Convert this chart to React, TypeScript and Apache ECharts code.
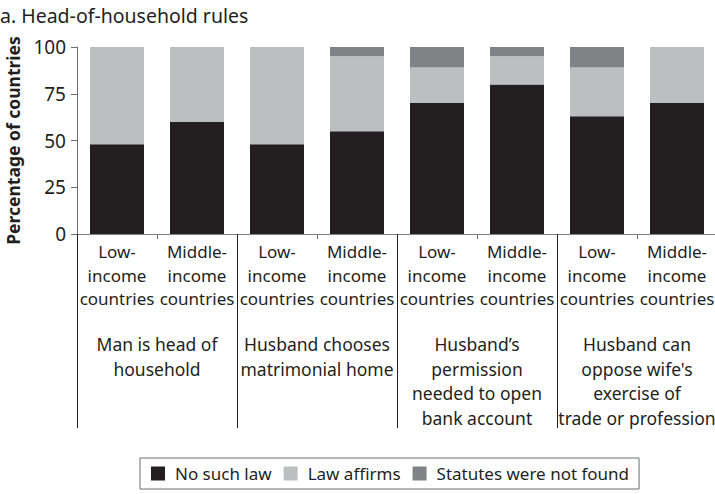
import React, { useEffect, useRef } from "react";
import * as echarts from "echarts";

const categories = [
  "Low-\nincome\ncountries",
  "Middle-\nincome\ncountries",
  "Low-\nincome\ncountries",
  "Middle-\nincome\ncountries",
  "Low-\nincome\ncountries",
  "Middle-\nincome\ncountries",
  "Low-\nincome\ncountries",
  "Middle-\nincome\ncountries",
];
const groups = [
  "Man is head of\nhousehold",
  "Husband chooses\nmatrimonial home",
  "Husband\u2019s\npermission\nneeded to open\nbank account",
  "Husband can\noppose wife's\nexercise of\ntrade or profession",
];
const noSuchLaw = [48, 60, 48, 55, 70, 80, 63, 70];
const lawAffirms = [52, 40, 52, 40, 19, 15, 26, 30];
const notFound = [0, 0, 0, 5, 11, 5, 11, 0];
const yTicks = [0, 25, 50, 75, 100];

const FONT = "Noto Sans";
const INK = "#231f20";

export default function App() {
  const ref = useRef<HTMLDivElement>(null);
  useEffect(() => {
    if (!ref.current) return;
    const chart = echarts.init(ref.current, null, { renderer: "svg" });
    chart.setOption({
      animation: false,
      textStyle: { fontFamily: FONT, color: INK },
      title: {
        text: "a. Head-of-household rules",
        left: 0,
        top: 5,
        padding: 0,
        textStyle: { fontFamily: FONT, fontSize: 19.5, fontWeight: "normal", color: INK },
      },
      legend: {
        left: 140,
        top: 458,
        width: 493,
        height: 34,
        padding: [7, 10, 7, 11],
        borderColor: "#6d6e71",
        borderWidth: 1,
        borderRadius: 0,
        itemWidth: 14,
        itemHeight: 14,
        itemGap: 12,
        icon: "rect",
        textStyle: { fontFamily: FONT, fontSize: 17, color: INK, padding: [0, 0, 0, 5] },
        data: ["No such law", "Law affirms", "Statutes were not found"],
      },
      grid: {
        left: 77,
        top: 47,
        width: 640,
        height: 187,
        containLabel: false,
        outerBoundsMode: "none",
      },
      xAxis: [
        {
          type: "category",
          data: categories,
          position: "bottom",
          axisLine: { show: true, lineStyle: { color: "#808285", width: 1 } },
          axisTick: { show: true, interval: 0, length: 5, lineStyle: { color: "#6d6e71" } },
          axisLabel: {
            interval: 0,
            margin: 6,
            fontFamily: FONT,
            fontSize: 17,
            lineHeight: 23.5,
            color: INK,
            align: "center",
          },
        },
        {
          type: "category",
          data: groups,
          position: "bottom",
          offset: 0,
          axisLine: { show: false },
          axisTick: { show: true, interval: 0, length: 194, inside: false, lineStyle: { color: INK } },
          axisLabel: {
            interval: 0,
            margin: 98,
            fontFamily: FONT,
            fontSize: 17.5,
            lineHeight: 24.5,
            color: INK,
            align: "center",
          },
        },
      ],
      yAxis: {
        type: "value",
        min: 0,
        max: 100,
        interval: 25,
        name: "Percentage of countries",
        nameLocation: "middle",
        nameGap: 53,
        nameTextStyle: { fontFamily: FONT, fontSize: 17.5, fontWeight: "bold", color: INK },
        axisLine: { show: true, lineStyle: { color: "#6d6e71" } },
        axisTick: { show: true, length: 6, lineStyle: { color: "#6d6e71" } },
        splitLine: { show: false },
        axisLabel: {
          margin: 11,
          fontFamily: FONT,
          fontSize: 19,
          color: INK,
          formatter: (v: number) => (yTicks.includes(v) ? String(v) : ""),
        },
      },
      series: [
        { name: "No such law", type: "bar", stack: "s", data: noSuchLaw, barWidth: 54, itemStyle: { color: INK } },
        { name: "Law affirms", type: "bar", stack: "s", data: lawAffirms, barWidth: 54, itemStyle: { color: "#bcbec0" } },
        { name: "Statutes were not found", type: "bar", stack: "s", data: notFound, barWidth: 54, itemStyle: { color: "#808285" } },
      ],
    });
    return () => chart.dispose();
  }, []);
  return (
    <div
      ref={ref}
      style={{ position: "fixed", left: 0, top: 0, width: 715, height: 494, background: "#fff" }}
    />
  );
}
